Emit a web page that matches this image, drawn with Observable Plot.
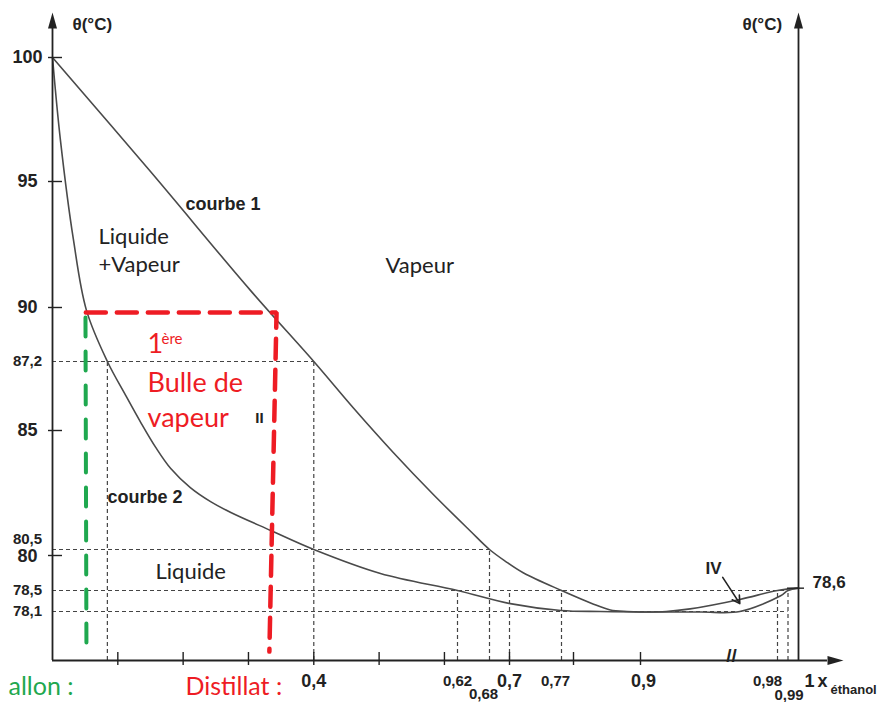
<!DOCTYPE html>
<html><head><meta charset="utf-8">
<script src="https://cdn.jsdelivr.net/npm/d3@7"></script>
<script src="https://cdn.jsdelivr.net/npm/@observablehq/plot@0.6"></script>
<style>html,body{margin:0;padding:0;background:#fff;} #chart svg{display:block}</style>
</head><body><div id="chart"></div>
<script>
// ---- data ----
// schematic (piecewise) axes: labelled values and where they sit
const xBreaks = [0, 0.62, 0.68, 0.7, 0.77, 0.8, 0.9, 0.98, 1];
const yBreaks = [77, 78.1, 78.5, 80, 80.5, 85, 87.2, 90, 95, 100];

// courbe 1 (vapeur / rosée)
const curve1X = [0, 0.15, 0.303, 0.4, 0.461, 0.522, 0.583, 0.644, 0.68, 0.696, 0.719, 0.77, 0.83, 0.855, 0.88, 0.9, 0.915, 0.929, 0.958, 0.98, 1];
const curve1T = [100, 95.4, 90.68, 87.2, 85.71, 84.16, 82.58, 81.2, 80.5, 79.75, 79.25, 78.5, 78.24, 78.13, 78.1, 78.09, 78.1, 78.15, 78.33, 78.5, 78.6];
// courbe 2 (liquide / ébullition)
const curve2X = [0, 0.012, 0.032, 0.052, 0.084, 0.112, 0.135, 0.158, 0.181, 0.211, 0.242, 0.273, 0.334, 0.4, 0.502, 0.62, 0.701, 0.769, 0.84, 0.9, 0.935, 0.958, 0.983, 0.99, 1];
const curve2T = [100, 96.7, 92.7, 89.85, 87.2, 86.12, 85.26, 84.36, 83.56, 82.84, 82.31, 81.9, 81.22, 80.5, 79.23, 78.5, 78.25, 78.12, 78.1, 78.09, 78.09, 78.1, 78.4, 78.5, 78.6];

const xTickVals = [0.1, 0.2, 0.3, 0.4, 0.5, 0.6, 0.7, 0.8, 0.9];
const yTickVals = [80, 85, 90, 95, 100];
const yLabelVals = [100, 95, 90, 87.2, 85, 80.5, 80, 78.5, 78.1];
const xLabelVals = [0.4, 0.62, 0.68, 0.7, 0.77, 0.9, 0.98, 0.99, 1];

// dashed reading lines
const hGuideT = [87.2, 80.5, 78.5, 78.1];
const hGuideEnd = [0.4, 0.68, 0.99, 0.99];
const vGuideX = [0.084, 0.4, 0.62, 0.68, 0.7, 0.77, 0.98, 0.99];
const vGuideTop = [87.2, 87.2, 78.5, 80.5, 78.5, 78.5, 78.5, 78.5];

const azeoPure = 78.6; // ethanol pur
const redX = [0.051, 0.343, 0.332], redT = [89.74, 89.74, 77.2];
const greenX = [0.0505, 0.052], greenT = [89.48, 77.11];

// ---- build tables ----
const c1 = curve1X.map((x, i) => ({x, t: curve1T[i]}));
const c2 = curve2X.map((x, i) => ({x, t: curve2T[i]}));
const hG = hGuideT.map((t, i) => ({t, x2: hGuideEnd[i]}));
const vG = vGuideX.map((x, i) => ({x, t: vGuideTop[i]}));
const red = redX.map((x, i) => ({x, t: redT[i]}));
const green = greenX.map((x, i) => ({x, t: greenT[i]}));
const fmt = v => String(v).replace(".", ",");

const yBase = 77, yTop = 101.17, xEnd = 1.0276;
const BOLD = "Liberation Sans, Arial, Helvetica, sans-serif";
const SOFT = "Lato, 'Open Sans', sans-serif";
const INK = "#222", CURVE = "#4a4a4a", GUIDE = "#444";
const RED = "#ee1c24", GREEN = "#1fa84f";

const annot = (txt, px, py, o = {}) => Plot.text([txt], {
  frameAnchor: "top-left", dx: px, dy: py, text: d => d, lineAnchor: "middle",
  fontFamily: SOFT, fontSize: 22, fill: INK, textAnchor: "start", ...o
});

const xLabDx = {0.68: -6, 0.77: -6, 0.9: 3, 0.98: -10, 0.99: 1, 1: 11};
const xLabDy = {0.68: 34, 0.99: 35};
const xBig = new Set([0.4, 0.7, 0.9, 1]);

const yLabelMarks = yLabelVals.map(v => Plot.text([v], {
  x: 0, y: d => d, text: fmt, dx: -25, dy: v === 80.5 ? -10 : v === 80 ? 1 : 0,
  fontSize: yTickVals.includes(v) ? 18 : 15,
  fontFamily: BOLD, fontWeight: "bold", fill: INK, textAnchor: "middle"
}));
const xLabelMarks = xLabelVals.map(v => Plot.text([v], {
  x: d => d, y: yBase, text: fmt, dx: xLabDx[v] ?? 0, dy: xLabDy[v] ?? 21,
  fontSize: xBig.has(v) ? 18 : 15,
  fontFamily: BOLD, fontWeight: "bold", fill: INK, textAnchor: "middle"
}));

const chart = Plot.plot({
  width: 881, height: 702, margin: 0,
  style: {background: "white", overflow: "visible"},
  x: {type: "linear", domain: xBreaks, range: [52, 457, 489, 509, 561, 573, 640, 777, 798], axis: null},
  y: {type: "linear", domain: yBreaks, range: [660, 611, 590, 555, 549, 430, 361, 307, 181, 57], axis: null},
  marks: [
    // dashed guides
    Plot.ruleY(hG, {y: "t", x1: 0, x2: "x2", stroke: GUIDE, strokeWidth: 1.2, strokeDasharray: "4,3"}),
    Plot.ruleX(vG, {x: "x", y1: yBase, y2: "t", stroke: GUIDE, strokeWidth: 1.2, strokeDasharray: "4,3"}),
    // curves
    Plot.line(c1, {x: "x", y: "t", curve: "catmull-rom", stroke: CURVE, strokeWidth: 1.6}),
    Plot.line(c2, {x: "x", y: "t", curve: "catmull-rom", stroke: CURVE, strokeWidth: 1.6}),
    // axes
    Plot.ruleX([0, 1], {x: d => d, y1: yBase, y2: yTop, stroke: INK, strokeWidth: 1.8}),
    Plot.ruleY([yBase], {y: d => d, x1: 0, x2: xEnd, stroke: INK, strokeWidth: 1.8}),
    Plot.vector([{x: 0, y: yTop}, {x: 1, y: yTop}], {x: "x", y: "y", shape: "spike", length: 16, r: 4.5, rotate: 0, anchor: "start", fill: INK, stroke: "none"}),
    Plot.vector([{x: xEnd, y: yBase}], {x: "x", y: "y", shape: "spike", length: 16, r: 4.5, rotate: 90, anchor: "start", fill: INK, stroke: "none"}),
    Plot.ruleY(yTickVals, {y: d => d, x1: 0, x2: 0, insetLeft: -4, insetRight: -10, stroke: INK, strokeWidth: 1.4}),
    Plot.ruleX(xTickVals, {x: d => d, y1: yBase, y2: yBase, insetTop: -8, insetBottom: -5, stroke: INK, strokeWidth: 1.4}),
    Plot.ruleY([azeoPure], {y: d => d, x1: 1, x2: 1, insetLeft: -11, insetRight: -6, stroke: INK, strokeWidth: 1.4}),
    // tick labels
    ...yLabelMarks,
    ...xLabelMarks,
    Plot.text([azeoPure], {x: 1, y: d => d, text: fmt, dx: 14, dy: -6, fontSize: 17, fontFamily: BOLD, fontWeight: "bold", fill: INK, textAnchor: "start"}),
    // distillation paths
    Plot.line(green, {x: "x", y: "t", stroke: GREEN, strokeWidth: 4, strokeDasharray: "19,15"}),
    Plot.line(red, {x: "x", y: "t", stroke: RED, strokeWidth: 4.5, strokeDasharray: "20,11", strokeLinejoin: "miter"}),
    Plot.arrow([{x1: 0.948, y1: 79.06, x2: 0.958, y2: 78.25}], {x1: "x1", y1: "y1", x2: "x2", y2: "y2", stroke: INK, strokeWidth: 1.6, headLength: 8}),
    // text annotations
    annot("θ(°C)", 72, 24, {fontFamily: BOLD, fontWeight: "bold", fontSize: 17}),
    annot("θ(°C)", 742, 24, {fontFamily: BOLD, fontWeight: "bold", fontSize: 17}),
    annot("courbe 1", 185, 204, {fontFamily: BOLD, fontWeight: "bold", fontSize: 18}),
    annot("courbe 2", 107, 497, {fontFamily: BOLD, fontWeight: "bold", fontSize: 18}),
    annot("II", 259, 418, {fontFamily: BOLD, fontWeight: "bold", fontSize: 15, textAnchor: "middle"}),
    annot("IV", 713, 568, {fontFamily: BOLD, fontWeight: "bold", fontSize: 17, textAnchor: "middle"}),
    annot("//", 731, 655, {fontFamily: BOLD, fontWeight: "bold", fontSize: 19, textAnchor: "middle"}),
    annot("x", 817, 681, {fontFamily: BOLD, fontWeight: "bold", fontSize: 18}),
    annot("éthanol", 830, 689, {fontFamily: BOLD, fontWeight: "bold", fontSize: 13}),
    annot("Liquide", 98, 236),
    annot("+Vapeur", 98, 264),
    annot("Vapeur", 385, 265),
    annot("Liquide", 155, 571),
    annot("1", 147, 344, {fill: RED, fontSize: 27}),
    annot("ère", 161, 339, {fill: RED, fontSize: 15}),
    annot("Bulle de", 147, 383, {fill: RED, fontSize: 27}),
    annot("vapeur", 147, 418, {fill: RED, fontSize: 27}),
    annot("allon :", 73, 686, {fill: GREEN, fontSize: 25, textAnchor: "end"}),
    annot("Distillat :", 185, 686, {fill: RED, fontSize: 25})
  ]
});
document.getElementById("chart").append(chart);
</script>
</body></html>
